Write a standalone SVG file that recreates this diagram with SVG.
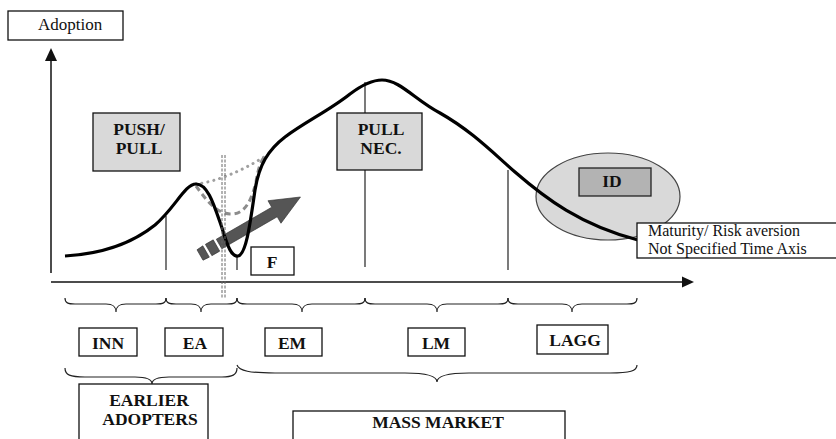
<svg xmlns="http://www.w3.org/2000/svg" width="836" height="439" viewBox="0 0 836 439" font-family="'Liberation Serif', 'Times New Roman', Tinos, 'DejaVu Serif', serif">
<style>
.box{fill:#fff;stroke:#111;stroke-width:1.3}
.gbox{fill:#d9d9d9;stroke:#111;stroke-width:1.3}
.b{font-family:'Liberation Serif','Times New Roman',Tinos,'DejaVu Serif',serif;font-weight:bold;font-size:17.5px;fill:#111;text-anchor:middle}
.r{font-family:'Liberation Serif','Times New Roman',Tinos,'DejaVu Serif',serif;font-size:17px;fill:#111}
.axis{stroke:#111;stroke-width:1.5;fill:none}
.tick{stroke:#222;stroke-width:1.2;fill:none}
.brace{stroke:#222;stroke-width:1.2;fill:none}
</style>
<rect width="836" height="439" fill="#fff"/>
<g id="axes">
<line class="axis" x1="51" y1="273" x2="51" y2="58"/>
<polygon points="51,48 45,61 57,61" fill="#111"/>
<line class="axis" x1="51" y1="282" x2="684" y2="282"/>
<polygon points="694,282 682,276.5 682,287.5" fill="#111"/>
</g>
<g id="adoption"><rect class="box" x="8" y="11" width="115" height="29"/><text class="r" x="38" y="30">Adoption</text></g>
<g id="ticks">
<line class="tick" x1="166" y1="216" x2="166" y2="270"/>
<line class="tick" x1="237" y1="255" x2="237" y2="270"/>
<line class="tick" x1="365" y1="82" x2="365" y2="267"/>
<line class="tick" x1="508" y1="170" x2="508" y2="270"/>
</g>
<g id="id-ellipse"><ellipse cx="608" cy="196.5" rx="72" ry="43.5" fill="#d9d9d9" stroke="#444" stroke-width="1.2"/>
<rect x="579" y="168" width="72" height="28" fill="#b3b3b3" stroke="#222" stroke-width="1.3"/><text class="b" x="612" y="187">ID</text></g>
<g id="push-pull"><rect class="gbox" x="93" y="113" width="87" height="58"/><text class="b" x="139" y="135">PUSH/</text><text class="b" x="139" y="154">PULL</text></g>
<g id="pull-nec"><rect class="gbox" x="337" y="113" width="85" height="57"/><text class="b" x="381" y="135">PULL</text><text class="b" x="381" y="154">NEC.</text></g>
<g id="big-arrow" transform="translate(200,255) rotate(-30)" fill="#555" stroke="#333" stroke-width="0.6">
<polygon points="0,-6 7,-6.5 7,6.5 0,6"/>
<polygon points="10,-6.5 19,-6.5 19,6.5 10,6.5"/>
<polygon points="22,-5.5 86,-5.5 86,-13 116,0 86,13 86,5.5 22,5.5"/>
</g>
<g id="connectors">
<path d="M196,184 C215,182 240,172 264,157" fill="none" stroke="#a0a0a0" stroke-width="3" stroke-dasharray="0.1,6" stroke-linecap="round"/>
<path d="M196,186 C205,198 215,213 230,214 C246,215 252,198 256,182 C258,170 260,163 264,157" fill="none" stroke="#8c8c8c" stroke-width="3" stroke-dasharray="6,4"/>
<path d="M65,256 C100,254 130,245 155,225 C175,208 185,184 196,184 C208,184 214,205 222,228 C228,248 232,257 238,256 C246,255 250,225 255,190 C259,165 268,150 285,137 C305,122 330,110 350,94 C362,85 372,80 382,80 C400,80 415,100 440,113 C470,130 490,150 515,172 C545,198 580,225 638,240" fill="none" stroke="#000" stroke-width="3.2"/>
<line x1="222" y1="155" x2="222" y2="299" stroke="#666" stroke-width="1" stroke-dasharray="3,1.5"/>
<line x1="225" y1="155" x2="225" y2="299" stroke="#666" stroke-width="1" stroke-dasharray="3,1.5"/>
</g>
<g id="f"><rect class="box" x="251" y="247" width="43" height="28"/><text class="b" x="272" y="268">F</text></g>
<g id="maturity"><rect class="box" x="637" y="223" width="205" height="35"/><text class="r" x="648" y="236" style="font-size:16px">Maturity/ Risk aversion</text><text class="r" x="648" y="254" style="font-size:16px">Not Specified Time Axis</text></g>
<g id="braces">
<path class="brace" d="M65,298 C65,303 68,304 75,304 L106,304 C113,304 116,306 116,312 C116,306 119,304 126,304 L156,304 C163,304 166,303 166,298"/>
<path class="brace" d="M166,298 C166,303 169,304 176,304 L191,304 C198,304 201,306 201,312 C201,306 204,304 211,304 L227,304 C234,304 237,303 237,298"/>
<path class="brace" d="M237,298 C237,303 240,304 247,304 L292,304 C299,304 302,306 302,312 C302,306 305,304 312,304 L355,304 C362,304 365,303 365,298"/>
<path class="brace" d="M365,298 C365,303 368,304 375,304 L427,304 C434,304 437,306 437,312 C437,306 440,304 447,304 L498,304 C505,304 508,303 508,298"/>
<path class="brace" d="M508,298 C508,303 511,304 518,304 L562,304 C569,304 572,306 572,312 C572,306 575,304 582,304 L627,304 C634,304 637,303 637,298"/>
<path class="brace" d="M65,368 C65,375 70,377 85,377 L135,377 C147,377 152,379 152,384 C152,379 157,377 169,377 L222,377 C232,377 237,375 237,368"/>
<path class="brace" d="M237,365 C239,371 250,373 275,373 L405,373 C428,373 437,376 437,382 C437,376 446,373 469,373 L610,373 C630,373 637,371 637,365"/>
</g>
<g id="inn"><rect class="box" x="79" y="328" width="58" height="28"/><text class="b" x="108" y="349">INN</text></g>
<g id="ea"><rect class="box" x="165" y="328" width="58" height="28"/><text class="b" x="195" y="349">EA</text></g>
<g id="em"><rect class="box" x="265" y="328" width="57" height="28"/><text class="b" x="292" y="349">EM</text></g>
<g id="lm"><rect class="box" x="408" y="328" width="57" height="28"/><text class="b" x="436" y="349">LM</text></g>
<g id="lagg"><rect class="box" x="537" y="325" width="71" height="29"/><text class="b" x="575" y="346">LAGG</text></g>
<g id="earlier-adopters"><rect class="box" x="79" y="384" width="129" height="60"/><text class="b" x="149" y="406">EARLIER</text><text class="b" x="150" y="425">ADOPTERS</text></g>
<g id="mass-market"><rect class="box" x="293" y="411" width="272" height="40"/><text class="b" x="438" y="428">MASS MARKET</text></g>
</svg>
